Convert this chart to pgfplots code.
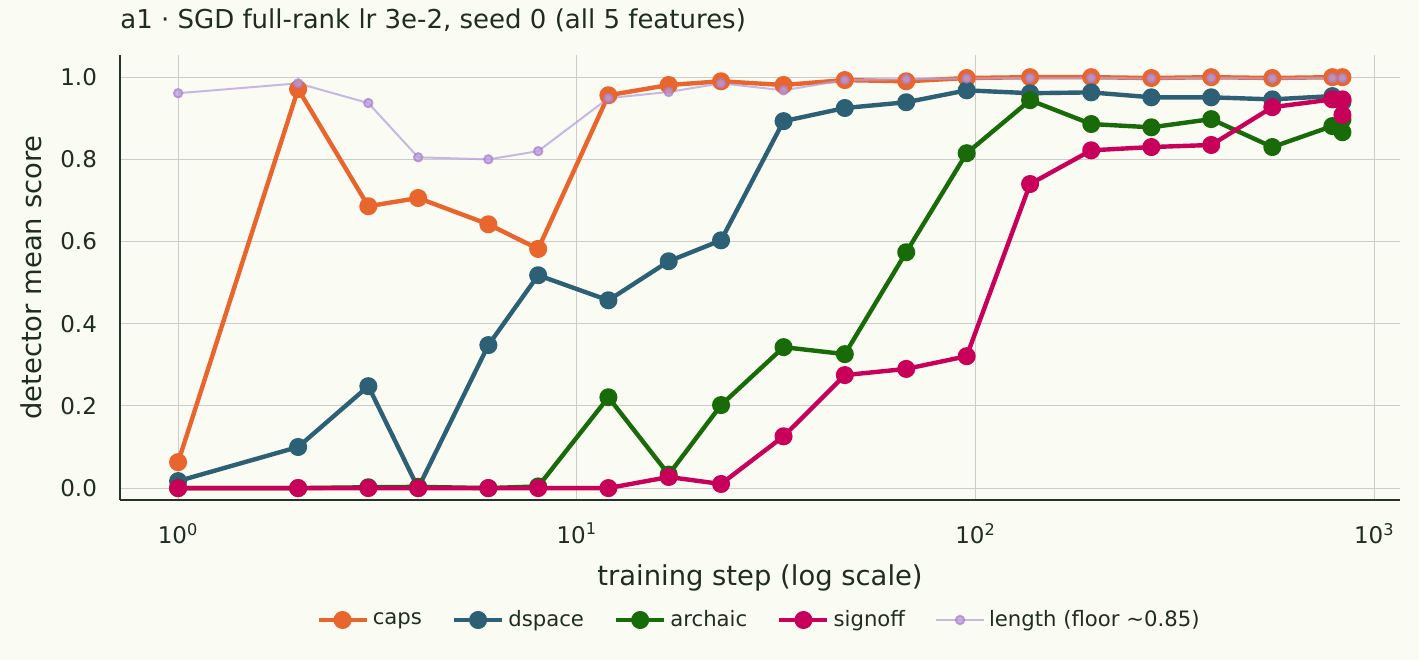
\documentclass[border=0pt]{standalone}
\usepackage{pgfplots}
\pgfplotsset{compat=1.18}
\usepackage{fontspec}
\setmainfont{DejaVu Sans}
\definecolor{bg}{HTML}{FAFBF2}
\definecolor{txt}{HTML}{1F2D1F}
\definecolor{spine}{HTML}{263326}
\definecolor{caps}{HTML}{E8652E}
\definecolor{dspace}{HTML}{2D6075}
\definecolor{archaic}{HTML}{186B08}
\definecolor{signoff}{HTML}{C8005A}
\definecolor{lengthc}{HTML}{B7A1DF}
\begin{document}
\begin{tikzpicture}
\fill[bg] (0,0) rectangle (709.5pt,330pt);
\path[use as bounding box] (0,0) rectangle (709.5pt,330pt);
\begin{axis}[
  at={(60pt,80pt)}, anchor=south west,
  scale only axis, width=640pt, height=222.5pt,
  xmode=log, log basis x=10,
  xmin=0.715, xmax=1160, ymin=-0.029, ymax=1.054,
  axis x line*=bottom, axis y line*=left,
  axis line style={spine, line width=1.25pt},
  every outer x axis line/.append style={-},
  every outer y axis line/.append style={-},
  xtick={1,10,100,1000},
  xticklabels={10\textsuperscript{0},10\textsuperscript{1},10\textsuperscript{2},10\textsuperscript{3}},
  ytick={0,0.2,0.4,0.6,0.8,1.0},
  yticklabels={0.0,0.2,0.4,0.6,0.8,1.0},
  major tick length=0pt, minor tick length=0pt,
  tick label style={font=\fontsize{11.5}{13}\selectfont, text=txt},
  xticklabel style={yshift=-8pt},
  yticklabel style={xshift=-8pt},
  grid=both,
  minor x tick num=8,
  major grid style={gray!40, line width=0.5pt},
  minor x grid style={gray!25, line width=0.4pt},
  minor y grid style={draw=none},
  xlabel={training step (log scale)},
  ylabel={detector mean score},
  label style={font=\fontsize{13.7}{15}\selectfont, text=txt},
  xlabel style={at={(axis description cs:0.5,0)}, anchor=base, yshift=-42.5pt},
  ylabel style={at={(axis description cs:0,0.5)}, anchor=base, yshift=39pt},
  title={a1 · SGD full-rank lr 3e-2, seed 0 (all 5 features)},
  title style={font=\fontsize{13}{15}\selectfont, text=txt, at={(axis description cs:0,1)}, anchor=base west, inner sep=0pt, yshift=7.5pt},
  legend columns=5,
  legend style={at={(axis description cs:0.5,0)}, anchor=center, yshift=-60pt, draw=none, fill=none, font=\fontsize{10.6}{12}\selectfont, text=txt, /tikz/every even column/.append style={column sep=13pt}},
  legend image code/.code={\draw[#1] (0pt,0pt) -- (24pt,0pt); \draw[#1, mark repeat=2, mark phase=1] plot coordinates {(12pt,0pt)};},
  every axis plot/.append style={line join=round},
]
\addplot[caps, line width=2.2pt, mark=*, mark size=3.4pt, mark options={solid, fill=caps, draw=caps}] coordinates {
(1,0.063)(2,0.971)(3,0.686)(4,0.706)(6,0.642)(8,0.582)(12,0.956)(17,0.981)(23,0.990)(33,0.981)(47,0.993)(67,0.990)(95,0.998)(137,1.0)(195,1.0)(276,0.998)(390,1.0)(555,0.998)(785,1.0)(832,1.0)};
\addlegendentry{caps}
\addplot[dspace, line width=2.2pt, mark=*, mark size=3.4pt, mark options={solid, fill=dspace, draw=dspace}] coordinates {
(1,0.017)(2,0.100)(3,0.248)(4,0.0)(6,0.348)(8,0.518)(12,0.457)(17,0.552)(23,0.603)(33,0.893)(47,0.925)(67,0.939)(95,0.968)(137,0.961)(195,0.963)(276,0.951)(390,0.951)(555,0.946)(785,0.954)(832,0.944)(832,0.940)};
\addlegendentry{dspace}
\addplot[archaic, line width=2.2pt, mark=*, mark size=3.4pt, mark options={solid, fill=archaic, draw=archaic}] coordinates {
(1,0.0)(2,0.0)(3,0.002)(4,0.003)(6,0.0)(8,0.004)(12,0.221)(17,0.033)(23,0.202)(33,0.343)(47,0.326)(67,0.574)(95,0.815)(137,0.944)(195,0.886)(276,0.878)(390,0.898)(555,0.830)(785,0.881)(832,0.897)(832,0.866)};
\addlegendentry{archaic}
\addplot[signoff, line width=2.2pt, mark=*, mark size=3.4pt, mark options={solid, fill=signoff, draw=signoff}] coordinates {
(1,0.0)(2,0.0)(3,0.0)(4,0.0)(6,0.0)(8,0.0)(12,0.0)(17,0.027)(23,0.010)(33,0.126)(47,0.275)(67,0.290)(95,0.321)(137,0.740)(195,0.822)(276,0.830)(390,0.835)(555,0.927)(785,0.946)(832,0.946)(832,0.908)};
\addlegendentry{signoff}
\addplot[lengthc, opacity=0.75, line width=1pt, mark=*, mark size=2.1pt, mark options={solid, fill=lengthc, draw=lengthc!80!violet}] coordinates {
(1,0.961)(2,0.985)(3,0.937)(4,0.805)(6,0.800)(8,0.820)(12,0.949)(17,0.964)(23,0.985)(33,0.968)(47,0.993)(67,0.995)(95,0.997)(137,0.998)(195,0.998)(276,0.997)(390,0.998)(555,0.997)(785,0.998)(832,0.998)};
\addlegendentry{length (floor \textasciitilde0.85)}
\end{axis}
\end{tikzpicture}
\end{document}
